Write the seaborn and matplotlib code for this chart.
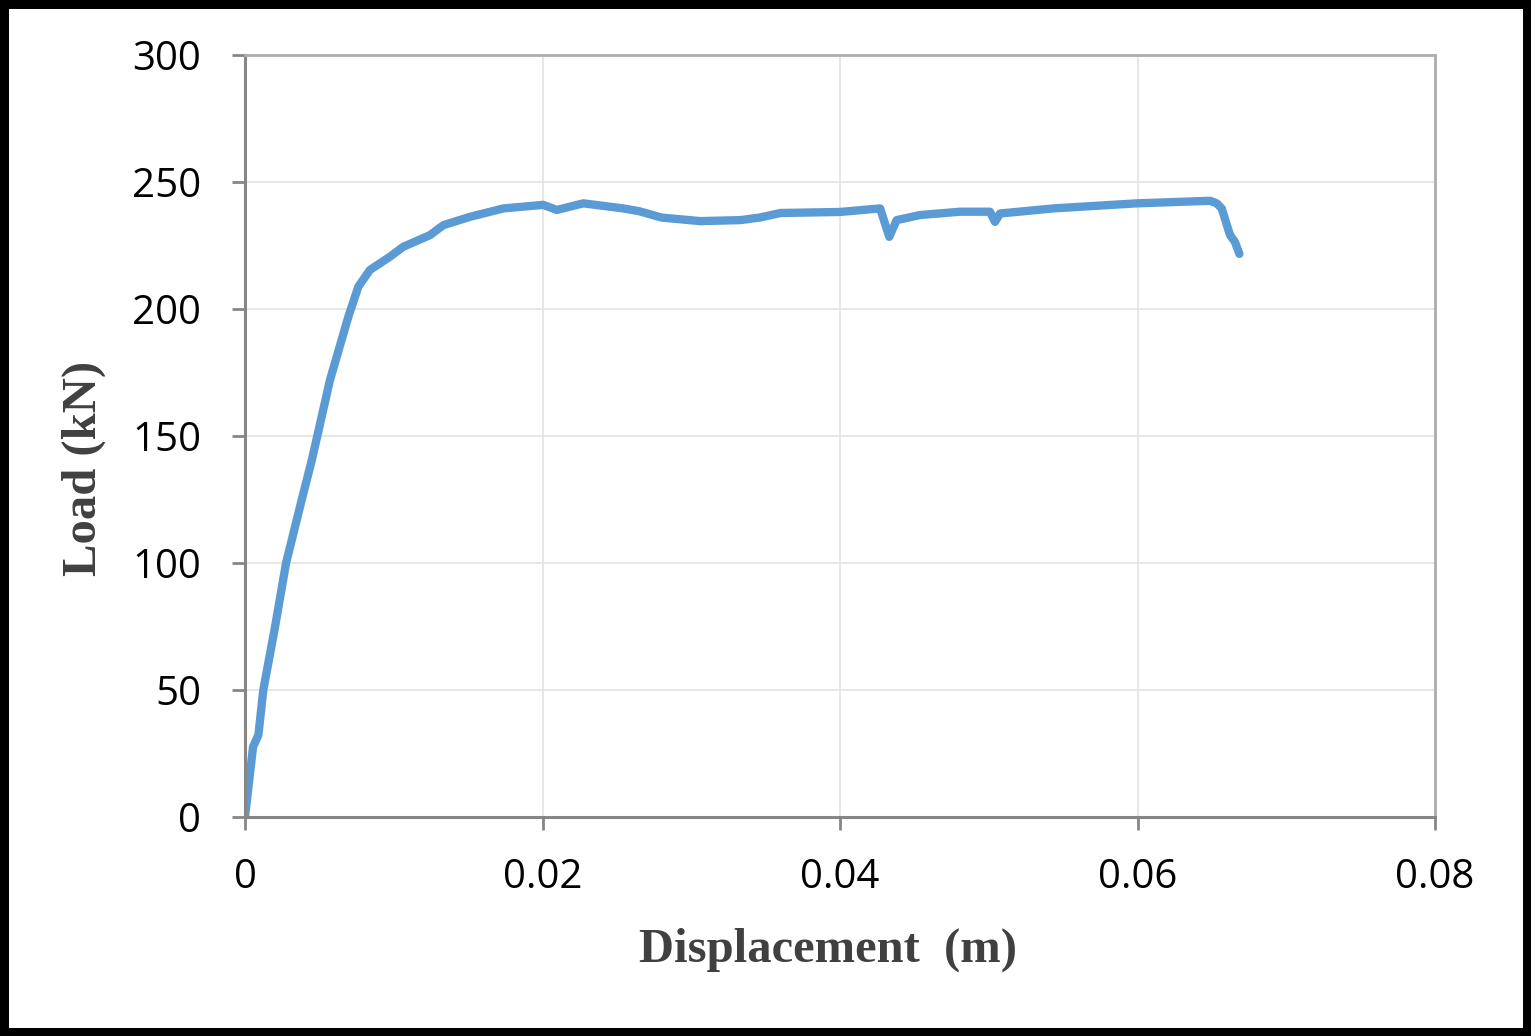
import pandas as pd
import seaborn as sns
import matplotlib.pyplot as plt

# Load-displacement curve
displacement = [0, 0.00054, 0.0009, 0.00123, 0.00202, 0.00276, 0.00381, 0.00449,
                0.00486, 0.00571, 0.00695, 0.00762, 0.0084, 0.00975, 0.01064,
                0.01244, 0.01333, 0.01513, 0.01737, 0.02005, 0.02096, 0.02274,
                0.02543, 0.0265, 0.028, 0.0306, 0.0333, 0.0346, 0.036, 0.04,
                0.0427, 0.04331, 0.04381, 0.04538, 0.04807, 0.05008, 0.05042,
                0.05076, 0.05434, 0.05995, 0.06487, 0.06533, 0.06566, 0.06622,
                0.06655, 0.06685]
load = [0, 27.6, 32.3, 50, 74.9, 100, 124.8, 140.5,
        150, 172, 197, 208.8, 215.4, 220.6, 224.5,
        229.1, 233, 236.3, 239.6, 241, 239, 241.6,
        239.6, 238.5, 236, 234.6, 235, 236, 237.8, 238.2,
        239.6, 228.4, 235, 237, 238.3, 238.3, 234.3,
        237.6, 239.6, 241.6, 242.6, 241.6, 239.6, 229.1,
        226.4, 221.7]

x_ticks = [0, 0.02, 0.04, 0.06, 0.08]
x_tick_labels = ['0', '0.02', '0.04', '0.06', '0.08']
y_ticks = [0, 50, 100, 150, 200, 250, 300]

df = pd.DataFrame({'Displacement': displacement, 'Load': load})

sns.set_theme(style='white')
plt.rcParams['font.family'] = ['Open Sans', 'DejaVu Sans']

fig = plt.figure(figsize=(15.31, 10.36), dpi=100)
fig.patch.set_edgecolor('black')
fig.patch.set_linewidth(12)
ax = fig.add_axes([0.16003, 0.21139, 0.77727, 0.73552])

sns.lineplot(data=df, x='Displacement', y='Load', color='#5B9BD5',
             linewidth=6, ax=ax, sort=False)

ax.set_xlim(0, 0.08)
ax.set_ylim(0, 300)
ax.set_xticks(x_ticks)
ax.set_xticklabels(x_tick_labels)
ax.set_yticks(y_ticks)
ax.grid(True, color='#E3E3E3', linewidth=1.2)

for side in ['top', 'right']:
    ax.spines[side].set_color('#ADADAD')
    ax.spines[side].set_linewidth(2)
for side in ['left', 'bottom']:
    ax.spines[side].set_color('#868686')
    ax.spines[side].set_linewidth(2.2)

ax.tick_params(axis='both', which='major', direction='out', length=9.5,
               width=2, color='#868686', labelsize=29, labelcolor='black',
               left=True, bottom=True)
ax.tick_params(axis='y', pad=22)
ax.tick_params(axis='x', pad=20)

label_font = dict(family='Liberation Serif', weight='bold', size=35, color='#404040')
ax.set_xlabel('Displacement  (m)', labelpad=21, x=0.49, **label_font)
ax.set_ylabel('Load (kN)', labelpad=19, y=0.457, **label_font)

fig.savefig('out.png', dpi=100, edgecolor=fig.get_edgecolor())
